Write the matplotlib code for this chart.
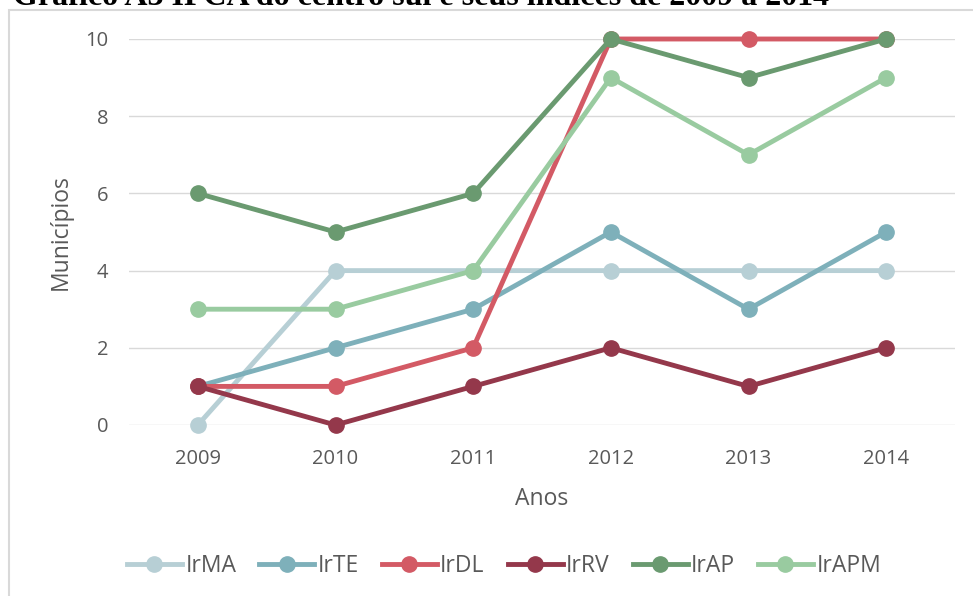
import matplotlib
matplotlib.use('Agg')
import matplotlib.pyplot as plt
from matplotlib.patches import Rectangle

# dados
anos = ['2009', '2010', '2011', '2012', '2013', '2014']
irma = [0, 4, 4, 4, 4, 4]
irte = [1, 2, 3, 5, 3, 5]
irdl = [1, 1, 2, 10, 10, 10]
irrv = [1, 0, 1, 2, 1, 2]
irap = [6, 5, 6, 10, 9, 10]
irapm = [3, 3, 4, 9, 7, 9]

series = [('IrMA', irma, '#b7cfd5'),
          ('IrTE', irte, '#7eb0ba'),
          ('IrDL', irdl, '#d35a65'),
          ('IrRV', irrv, '#94384b'),
          ('IrAP', irap, '#6a9a70'),
          ('IrAPM', irapm, '#99cba0')]

plt.rcParams['font.family'] = ['Open Sans', 'DejaVu Sans']

fig = plt.figure(figsize=(9.73, 5.96), dpi=100)
ax = fig.add_axes([129 / 973, 1 - 425 / 596, (955 - 129) / 973, (425 - 39) / 596])

# moldura do gráfico
fig.patches.append(Rectangle((9 / 973, -0.01), 1.0, 1 - 10 / 596 + 0.01, transform=fig.transFigure,
                             fill=False, edgecolor='#d9d9d9', linewidth=1.5))

x = list(range(len(anos)))
for nome, vals, cor in series:
    ax.plot(x, vals, color=cor, linewidth=3.5, marker='o', markersize=11,
            label=nome, clip_on=False, zorder=3)

ax.set_xlim(-0.5, len(anos) - 0.5)
ax.set_ylim(0, 10)
ax.set_yticks([0, 2, 4, 6, 8, 10])
ax.set_xticks(x)
ax.set_xticklabels(anos)
ax.grid(axis='y', color='#d9d9d9', linewidth=1)
ax.set_axisbelow(True)
for s in ax.spines.values():
    s.set_visible(False)
ax.tick_params(length=0, labelsize=14.5, colors='#595959')
ax.tick_params(axis='x', pad=17)
ax.tick_params(axis='y', pad=15)
ax.set_xlabel('Anos', fontsize=16.5, color='#595959', labelpad=13)
ax.set_ylabel('Municípios', fontsize=16.5, color='#595959', labelpad=9)

ax.legend(loc='center', bbox_to_anchor=(0.454, -0.365), ncol=6, frameon=False,
          fontsize=16.5, labelcolor='#595959', handlelength=2.4, handletextpad=0.15,
          columnspacing=1.0)

fig.text(13 / 973, 1 - 5 / 596, 'Gráfico A3 IPCA do centro sul e seus índices de 2009 a 2014',
         family='Liberation Serif', fontweight='bold', fontsize=23, va='baseline', ha='left')

fig.savefig('out.png', dpi=100)
